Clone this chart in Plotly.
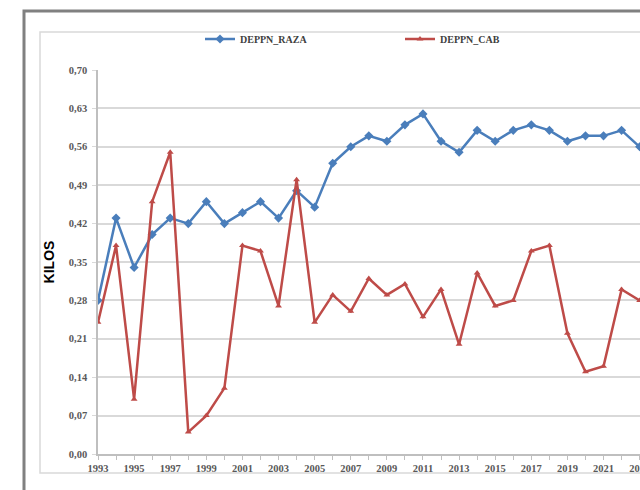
import plotly.graph_objects as go

years = list(range(1993, 2024))
deppn_raza = [0.28, 0.43, 0.34, 0.40, 0.43, 0.42, 0.46, 0.42, 0.44, 0.46,
              0.43, 0.48, 0.45, 0.53, 0.56, 0.58, 0.57, 0.60, 0.62, 0.57,
              0.55, 0.59, 0.57, 0.59, 0.60, 0.59, 0.57, 0.58, 0.58, 0.59, 0.56]
deppn_cab = [0.24, 0.38, 0.10, 0.46, 0.55, 0.04, 0.07, 0.12, 0.38, 0.37,
             0.27, 0.50, 0.24, 0.29, 0.26, 0.32, 0.29, 0.31, 0.25, 0.30,
             0.20, 0.33, 0.27, 0.28, 0.37, 0.38, 0.22, 0.15, 0.16, 0.30, 0.28]
y_ticks = [0.0, 0.07, 0.14, 0.21, 0.28, 0.35, 0.42, 0.49, 0.56, 0.63, 0.70]

W, H = 640, 490
L, R, T, B = 98, 0, 70, H - 454
pw, ph = W - L - R, H - T - B

def px(x):
    return (x - L) / pw

def py(y):
    return (H - B - y) / ph

fig = go.Figure()
fig.add_trace(go.Scatter(
    x=years, y=deppn_raza, name="DEPPN_RAZA", mode="lines+markers",
    line=dict(color="#4A7EBB", width=2.5),
    marker=dict(symbol="diamond", size=7, color="#4A7EBB"),
))
fig.add_trace(go.Scatter(
    x=years, y=deppn_cab, name="DEPPN_CAB", mode="lines+markers",
    line=dict(color="#BE4B48", width=2.5),
    marker=dict(symbol="triangle-up", size=6, color="#BE4B48"),
))

tickfont = dict(family="Liberation Serif, DejaVu Serif, serif", size=10.5, color="#595959", weight="bold")

fig.update_layout(
    width=W, height=H,
    margin=dict(l=L, r=R, t=T, b=B, autoexpand=False),
    paper_bgcolor="white", plot_bgcolor="white",
    separators=",.",
    showlegend=True,
    legend=dict(
        orientation="h", x=px(200), y=py(39), xanchor="left", yanchor="middle",
        entrywidth=155, entrywidthmode="pixels",
        font=dict(family="Liberation Serif, DejaVu Serif, serif", size=10, color="#404040", weight="bold"),
        bgcolor="rgba(0,0,0,0)", itemwidth=30,
    ),
    xaxis=dict(
        range=[1993, 2023.02], tickmode="array",
        tickvals=years[::2], ticktext=[str(y) for y in years[::2]],
        ticklabeloverflow="allow",
        showgrid=False, showline=True, linecolor="#BFBFBF", linewidth=1.5,
        ticks="outside", ticklen=4, tickcolor="#BFBFBF",
        minor=dict(ticks="outside", ticklen=4, tickcolor="#BFBFBF", dtick=1, tick0=1993),
        tickfont=tickfont, zeroline=False,
    ),
    yaxis=dict(
        range=[0, 0.70], tickmode="array", tickvals=y_ticks,
        tickformat=".2f",
        showgrid=True, gridcolor="#D9D9D9", gridwidth=1.5,
        showline=True, linecolor="#BFBFBF", linewidth=1.5,
        ticks="outside", ticklen=4, tickcolor="#D9D9D9",
        ticklabelstandoff=3,
        tickfont=tickfont, zeroline=False,
        title=dict(text="KILOS", font=dict(family="Liberation Sans, Arial, sans-serif", size=14, color="#000000", weight="bold"), standoff=11),
    ),
    shapes=[
        dict(type="rect", xref="paper", yref="paper",
             x0=px(40), x1=px(660), y0=py(473), y1=py(32),
             line=dict(color="#D9D9D9", width=1.5), layer="below"),
        dict(type="rect", xref="paper", yref="paper",
             x0=px(24), x1=px(680), y0=py(520), y1=py(11),
             line=dict(color="#808080", width=3), layer="below"),
    ],
)

fig.write_html(
    "out.html",
    config={"displayModeBar": False},
    post_script="document.body.style.margin='0';document.body.style.overflow='hidden';",
)
